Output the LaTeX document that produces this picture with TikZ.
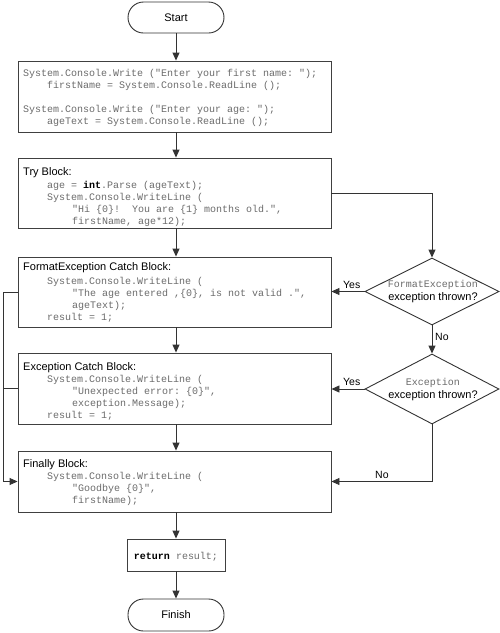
\documentclass[tikz,border=0pt]{standalone}
\usepackage{fontspec}
\setmainfont{Liberation Sans}
\setmonofont{Liberation Mono}
\usetikzlibrary{shapes.geometric,arrows.meta}
\tikzset{
  line/.style={draw=black!80, line width=0.9pt},
  arr/.style={line, -{Triangle[length=8pt,width=7pt]}},
  blk/.style={draw=black!75, line width=0.9pt, rectangle, inner sep=0pt, minimum width=313pt},
  term/.style={draw=black!80, line width=0.9pt, rectangle, rounded corners=15.5pt, minimum width=96pt, minimum height=32pt, inner sep=0pt, font=\fontsize{11}{13}\selectfont},
  dec/.style={diamond, draw=black!80, line width=0.9pt, inner sep=0pt, minimum width=134pt, minimum height=67pt},
  code/.style={anchor=base west, inner sep=0pt, font=\ttfamily\fontsize{10}{12}\selectfont, text=black!58},
  head/.style={anchor=base west, inner sep=0pt, font=\fontsize{11}{13}\selectfont},
  lbl/.style={anchor=base west, inner sep=0pt, font=\fontsize{10.5}{12}\selectfont},
}
\newcommand{\kw}[1]{{\color{black}\bfseries #1}}
\begin{document}
\begin{tikzpicture}[x=1pt,y=-1pt]
\useasboundingbox (0,0) rectangle (500,633);
% shapes
\node[term, minimum height=31pt] (start) at (176,17.5) {Start};
\node[blk, minimum height=71pt] (b1) at (174.5,96.5) {};
\node[blk, minimum height=70pt] (b2) at (174.5,193) {};
\node[blk, minimum height=70pt] (b3) at (174.5,292) {};
\node[blk, minimum height=71pt] (b4) at (174.5,388.5) {};
\node[blk, minimum height=61pt] (b5) at (174.5,481.5) {};
\node[blk, minimum width=98pt, minimum height=32pt] (ret) at (176,555) {};
\node[term] (fin) at (176,615) {Finish};
\node[dec] (d1) at (432,291.5) {};
\node[dec, minimum height=70pt] (d2) at (432,389) {};
% box 1
\node[code] (t11) at (23,76) {System.Console.Write ("Enter your first name: ");};
\node[code] (t12) at (47,88) {firstName = System.Console.ReadLine ();};
\node[code] (t13) at (23,112) {System.Console.Write ("Enter your age: ");};
\node[code] (t14) at (47,124) {ageText = System.Console.ReadLine ();};
% box 2
\node[head] (t20) at (23,175) {Try Block:};
\node[code] (t21) at (47,188) {age = \kw{int}.Parse (ageText);};
\node[code] (t22) at (47,200) {System.Console.WriteLine (};
\node[code] (t23) at (72,212) {"Hi \{0\}!~ You are \{1\} months old.",};
\node[code] (t24) at (72,224) {firstName, age*12);};
% box 3
\node[head] (t30) at (23,270) {FormatException Catch Block:};
\node[code] (t31) at (47,284) {System.Console.WriteLine (};
\node[code] (t32) at (72,296) {"The age entered ,\{0\}, is not valid .",};
\node[code] (t33) at (72,308) {ageText);};
\node[code] (t34) at (47,320) {result = 1;};
% box 4
\node[head] (t40) at (23,370) {Exception Catch Block:};
\node[code] (t41) at (47,382) {System.Console.WriteLine (};
\node[code] (t42) at (72,394) {"Unexpected error: \{0\}",};
\node[code] (t43) at (72,406) {exception.Message);};
\node[code] (t44) at (47,418) {result = 1;};
% box 5
\node[head] (t50) at (23,467) {Finally Block:};
\node[code] (t51) at (47,479) {System.Console.WriteLine (};
\node[code] (t52) at (72,491) {"Goodbye \{0\}",};
\node[code] (t53) at (72,503) {firstName);};
% return
\node[code, anchor=base] (tr) at (176,559) {\kw{return} result;};
% diamond texts
\node[code, anchor=base] (d1a) at (433,287.5) {FormatException};
\node[head, anchor=base] (d1b) at (433,300) {exception thrown?};
\node[code, anchor=base] (d2a) at (433,385) {Exception};
\node[head, anchor=base] (d2b) at (433,398) {exception thrown?};
% connectors
\coordinate (ax) at (176,0);
\coordinate (lft) at (3,0);
\draw[arr] (start) -- (start |- b1.north);
\draw[arr] (b1.south -| ax) -- (b2.north -| ax);
\draw[arr] (b2.south -| ax) -- (b3.north -| ax);
\draw[arr] (b3.south -| ax) -- (b4.north -| ax);
\draw[arr] (b4.south -| ax) -- (b5.north -| ax);
\draw[arr] (b5.south -| ax) -- (ret.north -| ax);
\draw[arr] (ret) -- (fin);
\draw[arr] (b2.east) -| (d1.north);
\draw[arr] (d1.west) -- (d1.west -| b3.east);
\draw[arr] (d1.south) -- (d2.north);
\draw[arr] (d2.west) -- (d2.west -| b4.east);
\draw[arr] (d2.south) |- (b5.east);
\draw[arr] (b3.west) -- (b3.west -| lft) |- (b5.west);
\draw[line] (b4.west) -- (b4.west -| lft);
% labels
\node[lbl] (y1) at (343,288) {Yes};
\node[lbl] (n1) at (435,340) {No};
\node[lbl] (y2) at (343,385) {Yes};
\node[lbl] (n2) at (375,478) {No};
\end{tikzpicture}
\end{document}
